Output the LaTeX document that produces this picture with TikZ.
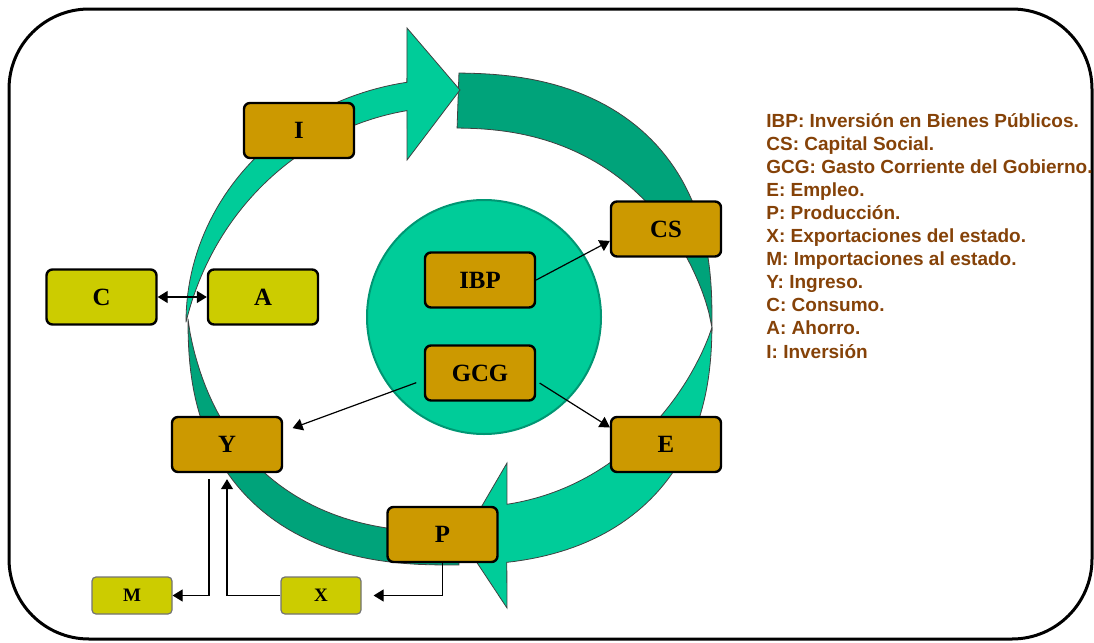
\documentclass[tikz,border=0pt]{standalone}
\usepackage{fontspec}
\setmainfont{Liberation Serif}
\newfontfamily\legfont{Liberation Sans}
\usetikzlibrary{arrows.meta}
\definecolor{boxgold}{RGB}{204,153,0}
\definecolor{boxolive}{RGB}{204,204,0}
\definecolor{ringlight}{RGB}{0,204,153}
\definecolor{ringdark}{RGB}{0,163,122}
\definecolor{circedge}{RGB}{0,150,115}
\definecolor{legbrown}{RGB}{133,66,8}

\begin{document}
\begin{tikzpicture}[x=0.5pt,y=-0.5pt,
	declare function={sqx(\t)=cos(\t)*(abs(cos(\t))+0.00001)^(-0.167);
		sqy(\t)=sin(\t)*(abs(sin(\t))+0.00001)^(-0.167);}]
	\tikzstyle{every node}+=[inner sep=0pt]
	\tikzstyle{goldbox}=[draw=black,line width=1.2pt,fill=boxgold,rounded corners=3pt,minimum width=55pt,minimum height=27.5pt,font=\fontsize{12.4}{14}\selectfont\bfseries]
	\tikzstyle{olivebox}=[goldbox,fill=boxolive]
	\tikzstyle{smallbox}=[draw=black!55,line width=0.6pt,fill=boxolive,rounded corners=2pt,minimum width=40pt,minimum height=18.5pt,font=\fontsize{9.5}{11}\selectfont\bfseries]
	\tikzstyle{flow}=[line width=0.6pt,-{Triangle[length=5pt,width=6pt]}]
	\tikzstyle{legend}=[anchor=base west,text=legbrown,font=\legfont\fontsize{9.5}{11}\selectfont\bfseries]
	\tikzstyle{ribbon}=[draw=black!75,line width=0.4pt]
	\useasboundingbox (0,0) rectangle (1094,643);
	% frame
	\draw [line width=1.5pt,rounded corners=40pt] (9,9) rectangle (1092,639);
	% ring: dark back sides
	\filldraw [ribbon,fill=ringdark] plot[domain=-89:1,samples=50] ({450+262*sqx(\x)},{319+246*sqy(\x)})
		-- plot[domain=1:-89,samples=50] ({450+(262-55*(1-(abs(\x+89)/90)^3))*sqx(\x)},{319+(246-55*(1-(abs(\x+89)/90)^3))*sqy(\x)}) -- cycle;
	\filldraw [ribbon,fill=ringdark] plot[domain=89:180,samples=50] ({450+262*sqx(\x)},{319+246*sqy(\x)})
		-- plot[domain=180:89,samples=50] ({450+(262-33*(1-(abs(\x-89)/91)^3))*sqx(\x)},{319+(246-33*(1-(abs(\x-89)/91)^3))*sqy(\x)}) -- cycle;
	% ring: light arrows
	\filldraw [ribbon,fill=ringlight] plot[domain=180:260.6,samples=50] ({450+264*cos(\x)},{322+243*sin(\x)})
		-- (407,28) -- (460,90) -- (407,160)
		-- plot[domain=259.5:180,samples=50] ({450+(264-28*(1-(abs(\x-260.6)/80.6)^3))*cos(\x)},{322+(243-28*(1-(abs(\x-260.6)/80.6)^3))*sin(\x)}) -- cycle;
	\filldraw [ribbon,fill=ringlight] plot[domain=1:80.8,samples=50] ({450+262*sqx(\x)},{319+246*sqy(\x)})
		-- (507,608) -- (462,540) -- (507,463)
		-- plot[domain=77.6:1,samples=50] ({450+(262-57*(1-(abs(\x-80.8)/79.8)^3))*sqx(\x)},{319+(246-57*(1-(abs(\x-80.8)/79.8)^3))*sqy(\x)}) -- cycle;
	% centre
	\filldraw [fill=ringlight,draw=circedge,line width=1pt] (484,317) circle[radius=117];
	% boxes
	\node [goldbox] (I) at (299,130.5) {I};
	\node [goldbox] (CS) at (666,229) {CS};
	\node [goldbox] (IBP) at (480,280) {IBP};
	\node [goldbox] (GCG) at (480,373) {GCG};
	\node [olivebox] (C) at (101.5,297) {C};
	\node [olivebox] (A) at (263,297) {A};
	\node [goldbox] (Y) at (227,444.5) {Y};
	\node [goldbox] (E) at (666,444.5) {E};
	\node [goldbox] (P) at (442.5,534.5) {P};
	\node [smallbox] (M) at (132,595.5) {M};
	\node [smallbox] (X) at (321,595.5) {X};
	% links
	\draw [flow] (IBP.east) -- (CS.192);
	\draw [flow,shorten <=4pt,shorten >=5pt] (GCG.187) -- (Y.13);
	\draw [flow,shorten <=2pt] (GCG.352) -- (E.163);
	\draw [line width=0.6pt,{Triangle[length=5pt,width=6pt]}-{Triangle[length=5pt,width=6pt]}] (C.east) -- (A.west);
	\draw [flow,shorten <=3pt] ([xshift=-9pt]Y.south) |- (M.east);
	\draw [flow,shorten >=3pt] (X.west) -| (Y.south);
	\draw [flow,shorten >=6pt] (P.south) |- (X.east);
	% legend
	\node [legend] (lIBP) at (766,127) {IBP: Inversión en Bienes Públicos.};
	\node [legend] (lCS) at (766,150.1) {CS: Capital Social.};
	\node [legend] (lGCG) at (766,173.2) {GCG: Gasto Corriente del Gobierno.};
	\node [legend] (lE) at (766,196.3) {E: Empleo.};
	\node [legend] (lP) at (766,219.4) {P: Producción.};
	\node [legend] (lX) at (766,242.5) {X: Exportaciones del estado.};
	\node [legend] (lM) at (766,265.6) {M: Importaciones al estado.};
	\node [legend] (lY) at (766,288.7) {Y: Ingreso.};
	\node [legend] (lC) at (766,311.8) {C: Consumo.};
	\node [legend] (lA) at (766,334.9) {A: Ahorro.};
	\node [legend] (lI) at (766,358) {I: Inversión};
\end{tikzpicture}
\end{document}
